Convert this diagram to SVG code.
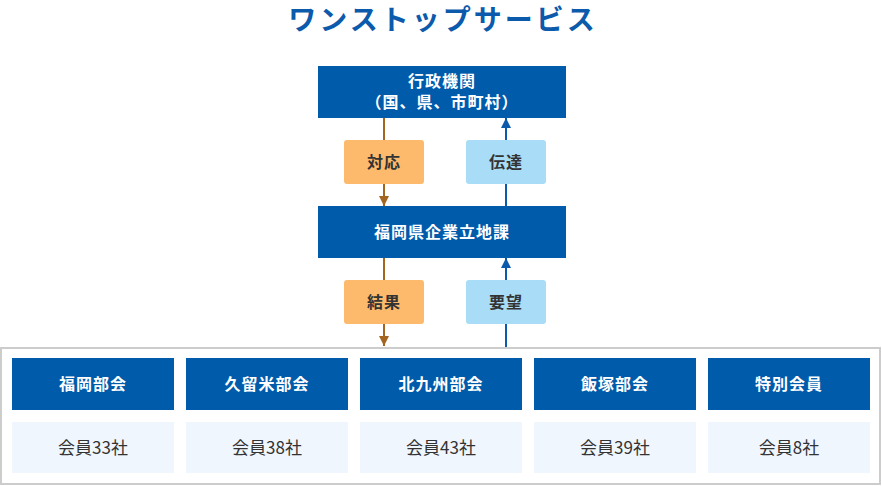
<svg xmlns="http://www.w3.org/2000/svg" width="882" height="486" viewBox="0 0 882 486">
<defs>
<style>
.t{font-family:"Noto Sans CJK JP","Noto Sans",sans-serif;text-anchor:middle}
.title{font-size:28px;font-weight:bold;fill:#0b5aab;letter-spacing:3px}
.node{fill:#005bab}
.nt{font-size:16px;font-weight:bold;fill:#ffffff;letter-spacing:1px}
.lab-o{fill:#fdba6c}
.lab-b{fill:#a9dcf6}
.lt{font-size:16px;font-weight:bold;fill:#333333;letter-spacing:1px}
.sub{fill:#f0f6fd}
.st{font-size:17px;fill:#333333}
.brown{stroke:#a3651f;stroke-width:2;fill:none}
.blue{stroke:#0b5aab;stroke-width:2;fill:none}
</style>
<marker id="ab" viewBox="0 0 10 10" refX="10" refY="5" markerWidth="10" markerHeight="10" markerUnits="userSpaceOnUse" orient="auto">
<path d="M0,0 L10,5 L0,10 Z" fill="#a3651f"/>
</marker>
<marker id="au" viewBox="0 0 10 10" refX="10" refY="5" markerWidth="10" markerHeight="10" markerUnits="userSpaceOnUse" orient="auto">
<path d="M0,0 L10,5 L0,10 Z" fill="#0b5aab"/>
</marker>
</defs>
<rect width="882" height="486" fill="#ffffff"/>
<text class="t title" x="443" y="30">ワンストップサービス</text>

<g id="connectors">
<line class="brown" x1="384" y1="118" x2="384" y2="206" marker-end="url(#ab)"/>
<line class="brown" x1="384" y1="258" x2="384" y2="346" marker-end="url(#ab)"/>
<line class="blue" x1="506" y1="206" x2="506" y2="118" marker-end="url(#au)"/>
<line class="blue" x1="506" y1="347" x2="506" y2="258" marker-end="url(#au)"/>
</g>

<g id="gyosei">
<rect class="node" x="318" y="66" width="248" height="52"/>
<text class="t nt" x="442" y="87">行政機関</text>
<text class="t nt" x="442" y="108">（国、県、市町村）</text>
</g>
<g id="kigyo">
<rect class="node" x="318" y="206" width="248" height="52"/>
<text class="t nt" x="442" y="238">福岡県企業立地課</text>
</g>

<g id="label-taiou">
<rect class="lab-o" x="344" y="140" width="80" height="44" rx="3"/>
<text class="t lt" x="384" y="168">対応</text>
</g>
<g id="label-dentatsu">
<rect class="lab-b" x="466" y="140" width="80" height="44" rx="3"/>
<text class="t lt" x="506" y="168">伝達</text>
</g>
<g id="label-kekka">
<rect class="lab-o" x="344" y="280" width="80" height="44" rx="3"/>
<text class="t lt" x="384" y="308">結果</text>
</g>
<g id="label-youbou">
<rect class="lab-b" x="466" y="280" width="80" height="44" rx="3"/>
<text class="t lt" x="506" y="308">要望</text>
</g>

<g id="frame">
<rect x="1" y="348" width="879" height="136" fill="none" stroke="#cccccc" stroke-width="2"/>
</g>

<g id="fukuoka">
<rect class="node" x="12" y="358" width="162" height="52"/>
<text class="t nt" x="93" y="390">福岡部会</text>
<rect class="sub" x="12" y="422" width="162" height="51"/>
<text class="t st" x="93" y="454">会員33社</text>
</g>
<g id="kurume">
<rect class="node" x="186" y="358" width="162" height="52"/>
<text class="t nt" x="267" y="390">久留米部会</text>
<rect class="sub" x="186" y="422" width="162" height="51"/>
<text class="t st" x="267" y="454">会員38社</text>
</g>
<g id="kitakyushu">
<rect class="node" x="360" y="358" width="162" height="52"/>
<text class="t nt" x="441" y="390">北九州部会</text>
<rect class="sub" x="360" y="422" width="162" height="51"/>
<text class="t st" x="441" y="454">会員43社</text>
</g>
<g id="iizuka">
<rect class="node" x="534" y="358" width="162" height="52"/>
<text class="t nt" x="615" y="390">飯塚部会</text>
<rect class="sub" x="534" y="422" width="162" height="51"/>
<text class="t st" x="615" y="454">会員39社</text>
</g>
<g id="tokubetsu">
<rect class="node" x="708" y="358" width="162" height="52"/>
<text class="t nt" x="789" y="390">特別会員</text>
<rect class="sub" x="708" y="422" width="162" height="51"/>
<text class="t st" x="789" y="454">会員8社</text>
</g>
</svg>
